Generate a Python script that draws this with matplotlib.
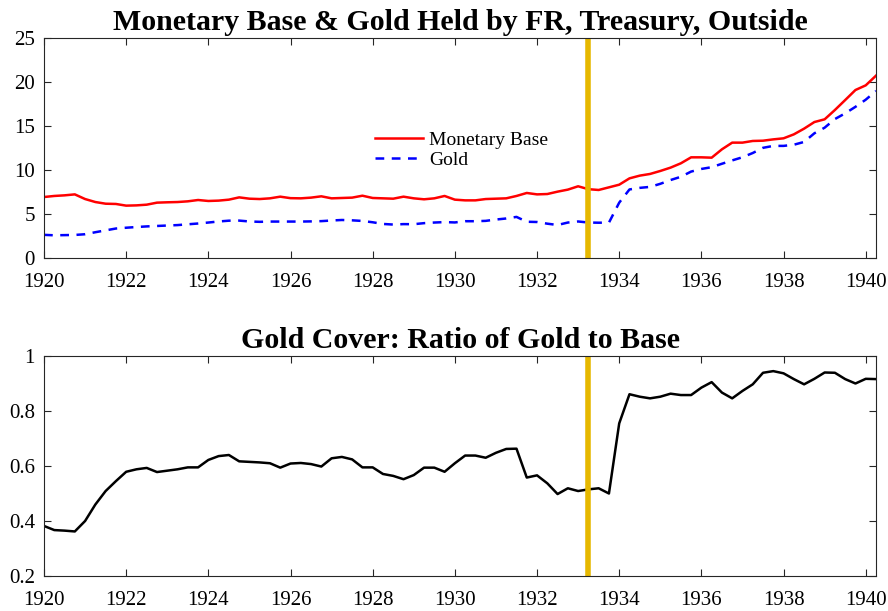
import numpy as np
import matplotlib
matplotlib.use("Agg")
import matplotlib.pyplot as plt

# quarterly dates 1920.00 ... 1940.25
years = [1920 + 0.25 * i for i in range(82)]

monetary_base = [
    6.93, 7.05, 7.12, 7.23, 6.70, 6.36, 6.17, 6.14, 5.95, 5.98, 6.06, 6.29,
    6.33, 6.36, 6.44, 6.59, 6.48, 6.52, 6.63, 6.89, 6.74, 6.70, 6.78, 6.97,
    6.80, 6.78, 6.86, 7.01, 6.78, 6.82, 6.86, 7.08, 6.82, 6.78, 6.74, 6.97,
    6.78, 6.67, 6.78, 7.05, 6.63, 6.55, 6.55, 6.70, 6.74, 6.78, 7.05, 7.39,
    7.23, 7.27, 7.54, 7.77, 8.15, 7.82, 7.73, 8.03, 8.33, 9.05, 9.36, 9.55,
    9.89, 10.27, 10.76, 11.44, 11.44, 11.40, 12.35, 13.11, 13.11, 13.30, 13.33, 13.48,
    13.60, 14.05, 14.70, 15.45, 15.76, 16.82, 17.95, 19.09, 19.62, 20.72,
]

gold = [
    2.63, 2.58, 2.60, 2.62, 2.70, 2.93, 3.14, 3.35, 3.44, 3.52, 3.59, 3.64,
    3.69, 3.74, 3.83, 3.92, 4.03, 4.15, 4.24, 4.25, 4.15, 4.11, 4.14, 4.14,
    4.14, 4.14, 4.16, 4.19, 4.26, 4.32, 4.28, 4.21, 4.06, 3.87, 3.80, 3.85,
    3.84, 3.96, 4.03, 4.08, 4.04, 4.18, 4.18, 4.22, 4.37, 4.49, 4.67, 4.12,
    4.09, 3.90, 3.75, 4.03, 4.15, 4.03, 4.01, 4.02, 6.29, 7.79, 7.97, 8.08,
    8.43, 8.86, 9.23, 9.82, 10.12, 10.32, 10.71, 11.09, 11.45, 11.93, 12.52, 12.74,
    12.74, 12.87, 13.19, 14.17, 14.81, 15.79, 16.44, 17.18, 17.99, 18.98,
]

gold_cover = [
    0.382, 0.367, 0.365, 0.362, 0.400, 0.460, 0.509, 0.545, 0.579, 0.588, 0.593, 0.578,
    0.583, 0.588, 0.595, 0.595, 0.622, 0.636, 0.640, 0.617, 0.615, 0.613, 0.610, 0.594,
    0.609, 0.611, 0.607, 0.598, 0.628, 0.633, 0.624, 0.595, 0.595, 0.571, 0.564, 0.552,
    0.567, 0.594, 0.594, 0.579, 0.610, 0.638, 0.638, 0.630, 0.648, 0.662, 0.663, 0.558,
    0.566, 0.537, 0.498, 0.519, 0.509, 0.515, 0.519, 0.500, 0.755, 0.861, 0.852, 0.846,
    0.852, 0.863, 0.858, 0.858, 0.885, 0.905, 0.867, 0.846, 0.873, 0.897, 0.939, 0.945,
    0.937, 0.916, 0.897, 0.917, 0.940, 0.939, 0.916, 0.900, 0.917, 0.916,
]

event_year = 1933.25
x_ticks = [1920, 1922, 1924, 1926, 1928, 1930, 1932, 1934, 1936, 1938, 1940]
top_yticks = [0, 5, 10, 15, 20, 25]
bot_yticks = [0.2, 0.4, 0.6, 0.8, 1.0]
bot_ylabels = ["0.2", "0.4", "0.6", "0.8", "1"]

plt.rcParams['font.family'] = ['Liberation Serif', 'DejaVu Serif']

W, H = 888, 611
fig = plt.figure(figsize=(W / 100, H / 100), dpi=100)

def add_ax(left, top, right, bottom):
    return fig.add_axes([left / W, 1 - bottom / H, (right - left) / W, (bottom - top) / H])

ax1 = add_ax(44, 38, 876, 258)
ax2 = add_ax(44, 356, 876, 576)

gold_col = '#E6B800'

ax1.plot(years, monetary_base, color='red', lw=1.8, label='Monetary Base')
ax1.plot(years, gold, color='blue', lw=1.8, ls=(0, (3.5, 3)), label='Gold')
ax1.axvline(event_year, color=gold_col, lw=4)
ax1.set_ylim(0, 25)
ax1.set_yticks(top_yticks)
ax1.set_title('Monetary Base & Gold Held by FR, Treasury, Outside',
              fontsize=21.5, fontweight='bold', pad=5.5)
leg = ax1.legend(loc='upper left', bbox_to_anchor=(0.388, 0.61), frameon=False,
                 fontsize=14, handlelength=2.5, handletextpad=0.3,
                 labelspacing=0.1, borderaxespad=0)

ax2.plot(years, gold_cover, color='black', lw=1.8)
ax2.axvline(event_year, color=gold_col, lw=4)
ax2.set_ylim(0.2, 1.0)
ax2.set_yticks(bot_yticks)
ax2.set_yticklabels(bot_ylabels)
ax2.set_title('Gold Cover: Ratio of Gold to Base',
              fontsize=21.5, fontweight='bold', pad=5.5)

for ax in (ax1, ax2):
    ax.set_xlim(1920, 1940.25)
    ax.set_xticks(x_ticks)
    ax.tick_params(direction='in', top=True, right=True, length=5, width=0.8,
                   labelsize=15, colors='#262626', labelcolor='black')
    ax.tick_params(axis='x', pad=11)
    ax.tick_params(axis='y', pad=6.5)
    for s in ax.spines.values():
        s.set_color('#262626')
        s.set_linewidth(0.8)

fig.savefig('out.png', dpi=100)
